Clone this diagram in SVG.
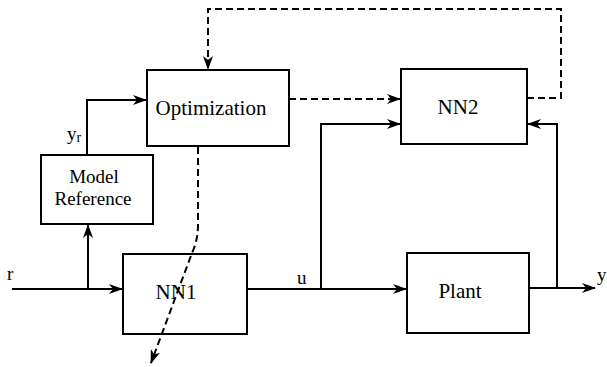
<svg xmlns="http://www.w3.org/2000/svg" width="607" height="367" viewBox="0 0 607 367">
<defs>
<marker id="ah" viewBox="0 0 14 10" refX="13" refY="5" markerWidth="14" markerHeight="10" markerUnits="userSpaceOnUse" orient="auto">
<path d="M0,0 L14,5 L0,10 L4,5 z" fill="#000"/>
</marker>
<style>
.box{fill:#fff;stroke:#000;stroke-width:2}
text{font-family:"Liberation Serif","Times New Roman",Times,serif;fill:#000}
.lbl{font-size:21px}
.mr{font-size:19px}
.sm{font-size:19px}
.ln{fill:none;stroke:#000;stroke-width:2}
.ds{fill:none;stroke:#000;stroke-width:2;stroke-dasharray:7,4}
</style>
</defs>
<rect width="607" height="367" fill="#fff"/>
<g id="optimization">
<rect class="box" x="147" y="70" width="142" height="76"/>
<text class="lbl" x="211" y="115" text-anchor="middle" font-family="Liberation Serif">Optimization</text>
</g>
<g id="model-reference">
<rect class="box" x="41" y="155" width="112" height="69"/>
<text class="mr" x="94" y="183" text-anchor="middle" font-family="Liberation Serif">Model</text>
<text class="mr" x="93" y="205" text-anchor="middle" font-family="Liberation Serif">Reference</text>
</g>
<g id="nn1">
<rect class="box" x="123" y="254" width="124" height="80"/>
<text class="lbl" x="176" y="299" text-anchor="middle" font-family="Liberation Serif">NN1</text>
</g>
<g id="nn2">
<rect class="box" x="401" y="69" width="126" height="75"/>
<text class="lbl" x="458" y="114" text-anchor="middle" font-family="Liberation Serif">NN2</text>
</g>
<g id="plant">
<rect class="box" x="407" y="253" width="122" height="80"/>
<text class="lbl" x="460" y="298" text-anchor="middle" font-family="Liberation Serif">Plant</text>
</g>
<g id="connectors">
<path class="ln" d="M12,289 L122,289" marker-end="url(#ah)"/>
<path class="ln" d="M88,289 L88,225" marker-end="url(#ah)"/>
<path class="ln" d="M87,155 L87,100 L146,100" marker-end="url(#ah)"/>
<path class="ln" d="M247,289 L406,289" marker-end="url(#ah)"/>
<path class="ln" d="M321,289 L321,124 L400,124" marker-end="url(#ah)"/>
<path class="ln" d="M529,288 L595,288" marker-end="url(#ah)"/>
<path class="ln" d="M557,288 L557,124 L528,124" marker-end="url(#ah)"/>
<path class="ds" d="M289,99 L400,99" marker-end="url(#ah)"/>
<path class="ds" d="M527,98 L561,98 L561,9 L208,9 L208,69" marker-end="url(#ah)"/>
<path class="ds" d="M198,147 L198,225 Q198,240 192,253 L151,363" marker-end="url(#ah)"/>
</g>
<g id="labels">
<text class="sm" x="7" y="280">r</text>
<text class="sm" x="297" y="284">u</text>
<text class="sm" x="597" y="281">y</text>
<text class="sm" x="67" y="140">y<tspan font-size="14" dy="2">r</tspan></text>
</g>
</svg>
